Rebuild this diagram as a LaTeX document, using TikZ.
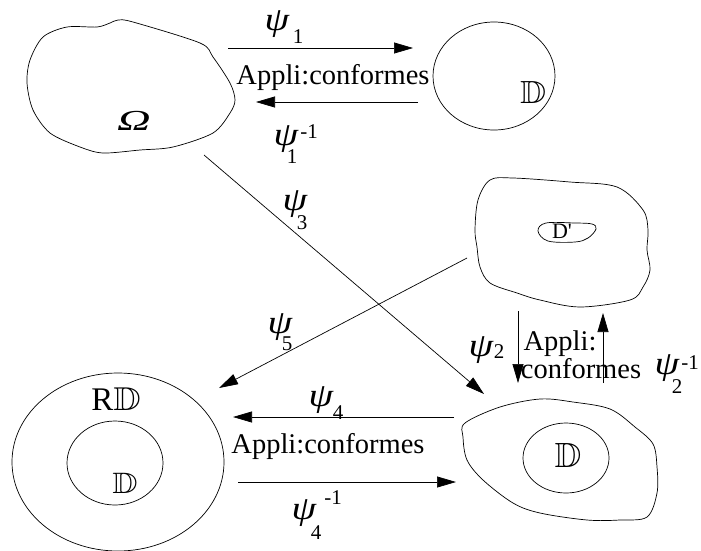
\documentclass[tikz,border=0pt]{standalone}
\usepackage{amssymb}
\usepackage{graphicx}
\usepackage{fontspec}
\setmainfont{Liberation Serif}
\usetikzlibrary{arrows.meta}
\newcommand{\psig}{\scalebox{1.2}[1]{\fontsize{33}{33}\selectfont\itshape ψ}}
\tikzset{
  blob/.style={draw=black, line width=0.7pt},
  conn/.style={draw=black, line width=0.7pt, -{Triangle[length=19pt,width=11pt]}},
  lbl/.style={inner sep=0pt},
  idx/.style={inner sep=0pt, font=\fontsize{21}{21}\selectfont},
  txt/.style={font=\fontsize{28.5}{32}\selectfont, inner sep=0pt},
}
\begin{document}
\begin{tikzpicture}[x=1pt,y=-1pt]
\useasboundingbox (0,0) rectangle (701,550);
% Omega blob
\draw[blob] plot[smooth cycle, tension=0.5] coordinates {(97,27) (110,23) (118,20) (133,22) (200,43) (213,57) (230,83) (235,100) (230,113) (213,133) (173,147) (140,150) (103,153) (80,147) (50,133) (33,110) (27,83) (30,60) (43,37) (67,27)};
\node[lbl] (om) at (134,121) {\scalebox{1.6}[1]{\fontsize{29}{29}\selectfont\itshape Ω}};
% top right disc
\draw[blob] (494,76) ellipse [x radius=61, y radius=54];
\node[lbl] (dtop) at (533,92) {\scalebox{3.6}[3.2]{$\mathbb{D}$}};
% D' blob
\draw[blob] plot[smooth cycle, tension=0.55] coordinates {(490,180) (513,178) (570,182) (617,187) (643,210) (648,230) (647,250) (650,270) (643,287) (630,300) (580,307) (540,300) (517,293) (490,283) (480,267) (477,247) (475,230) (478,200)};
\draw[blob] plot[smooth cycle, tension=0.6] coordinates {(538,231) (546,223) (575,223) (592,224) (596,229) (588,238) (575,242) (548,241)};
\node[inner sep=0pt, font=\fontsize{22}{22}\selectfont] (dp) at (562,231) {D\textquotesingle};
% bottom right blob
\draw[blob] plot[smooth cycle, tension=0.55] coordinates {(465,423) (500,407) (540,399) (573,402) (610,409) (635,427) (653,444) (657,467) (657,493) (647,517) (620,520) (587,520) (540,513) (513,503) (483,480) (467,460) (463,437)};
\draw[blob] (566,458) ellipse [x radius=43, y radius=35];
\node[lbl] (dbr) at (568,455) {\scalebox{3.7}[3.5]{$\mathbb{D}$}};
% RD
\draw[blob] (118,462) ellipse [x radius=106, y radius=89];
\draw[blob] (115,463) ellipse [x radius=48, y radius=42];
\node[inner sep=0pt, font=\fontsize{33}{36}\selectfont, anchor=base] (rd) at (116,410) {R\scalebox{1.15}[1]{$\mathbb{D}$}};
\node[lbl] (dbl) at (125,483) {\scalebox{3.5}[2.95]{$\mathbb{D}$}};
% coordinates for connectors
\coordinate (a1s) at (228,48); \coordinate (a1e) at (413,48);
\coordinate (a2s) at (418,102); \coordinate (a2e) at (256,102);
\coordinate (a3s) at (204,155); \coordinate (a3e) at (484,394);
\coordinate (a5s) at (467,258); \coordinate (a5e) at (219,388);
\coordinate (v1s) at (518,311); \coordinate (v1e) at (518,383);
\coordinate (v2s) at (603,383); \coordinate (v2e) at (603,313);
\coordinate (a4s) at (454,417); \coordinate (a4e) at (233,417);
\coordinate (a6s) at (238,482); \coordinate (a6e) at (456,482);
\draw[conn] (a1s) -- (a1e);
\draw[conn] (a2s) -- (a2e);
\draw[conn] (a3s) -- (a3e);
\draw[conn] (a5s) -- (a5e);
\draw[conn] (v1s) -- (v1e);
\draw[conn] (v2s) -- (v2e);
\draw[conn] (a4s) -- (a4e);
\draw[conn] (a6s) -- (a6e);
% texts
\node[txt, anchor=base] (ac1) at (333,84) {Appli:conformes};
\node[txt, anchor=base] (ac2a) at (560,350) {Appli:};
\node[txt, anchor=base] (ac2b) at (581,378) {conformes};
\node[txt, anchor=base] (ac3) at (328,453) {Appli:conformes};
% psi labels
\node[lbl] (p1) at (277,24) {\psig};
\node[idx] (p1s) at (298,37) {1};
\node[lbl] (q1) at (286,139) {\psig};
\node[idx] (q1p) at (309,132) {-1};
\node[idx] (q1s) at (292,157) {1};
\node[lbl] (p3) at (295,204) {\psig};
\node[idx] (p3s) at (302,223) {3};
\node[lbl] (p5) at (280,327) {\psig};
\node[idx] (p5s) at (287,344) {5};
\node[lbl] (p2) at (481,350) {\psig};
\node[idx] (p2s) at (499,352) {2};
\node[lbl] (q2) at (667,368) {\psig};
\node[idx] (q2p) at (690,363) {-1};
\node[idx] (q2s) at (677,387) {2};
\node[lbl] (p4) at (321,400) {\psig};
\node[idx] (p4s) at (338,413) {4};
\node[lbl] (q4) at (304,513) {\psig};
\node[idx] (q4p) at (333,498) {-1};
\node[idx] (q4s) at (316,533) {4};
\end{tikzpicture}
\end{document}
